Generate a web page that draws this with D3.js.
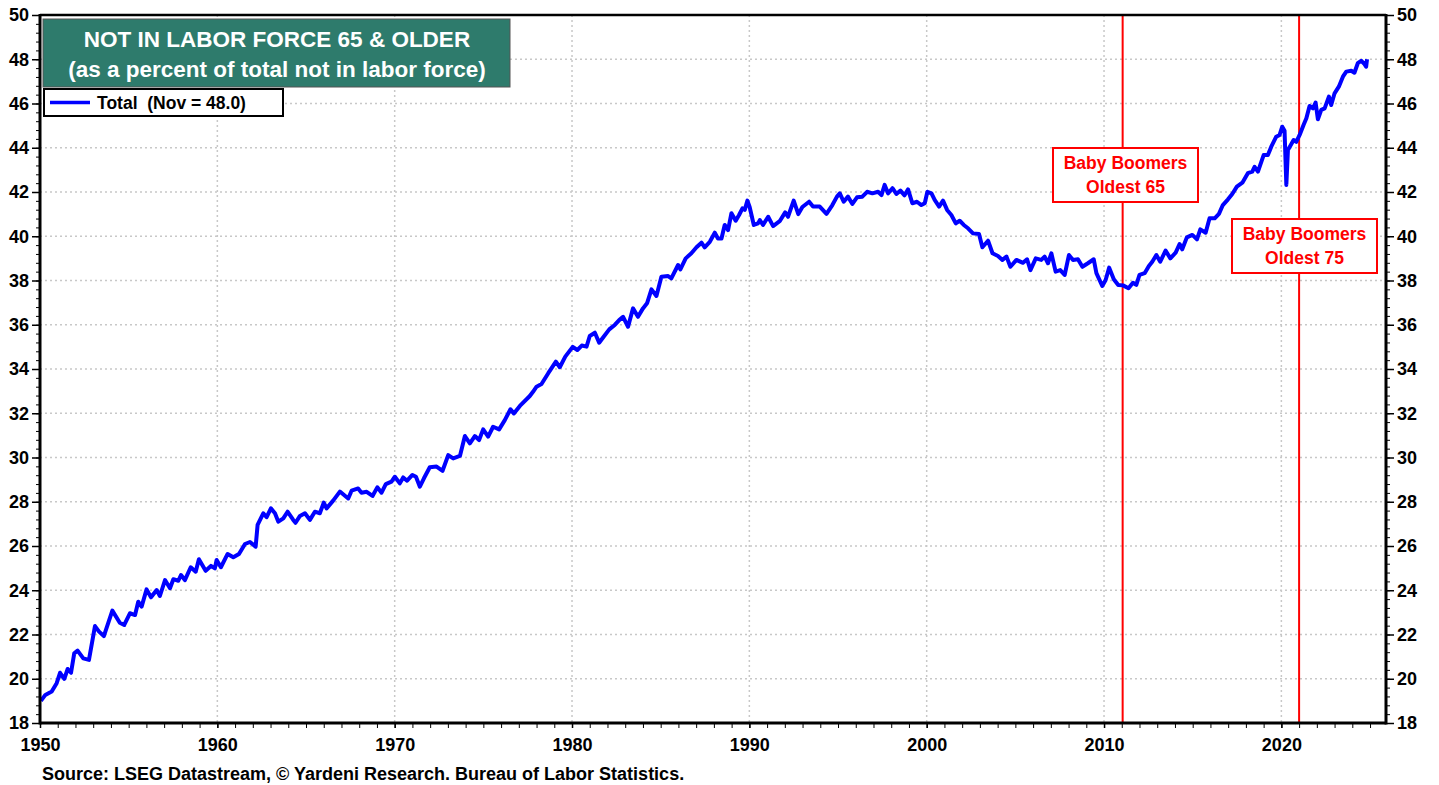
<!DOCTYPE html>
<html>
<head>
  <meta charset="utf-8">
  <script src="https://d3js.org/d3.v7.min.js"></script>
  <style>
    body { margin: 0; background: #fff; }
    text { font-family: "Liberation Sans", Arial, sans-serif; font-weight: bold; }
    .axis path, .axis line { stroke: #000; }
    .axis text { font-size: 18px; fill: #000; font-family: "Liberation Sans", Arial, sans-serif; font-weight: bold; }
    .grid line { stroke: #c8c8c8; stroke-width: 1.5; stroke-dasharray: 2,3; }
  </style>
</head>
<body>
<script>
// decimal year of each reading
var years = [1950.05,1950.3,1950.66,1950.94,1951.13,1951.37,1951.56,1951.75,1951.93,1952.12,1952.44,1952.76,
  1953.1,1953.33,1953.6,1954.08,1954.5,1954.75,1955.07,1955.36,1955.54,1955.73,1956.01,1956.26,1956.58,1956.76,
  1957.05,1957.33,1957.52,1957.8,1957.95,1958.17,1958.5,1958.78,1958.96,1959.34,1959.64,1959.86,1959.96,
  1960.2,1960.58,1960.9,1961.22,1961.56,1961.84,1962.16,1962.27,1962.59,1962.78,1963.02,1963.25,1963.44,1963.72,
  1963.96,1964.28,1964.41,1964.66,1964.94,1965.22,1965.5,1965.78,1966.0,1966.16,1966.53,1966.91,1967.38,1967.57,
  1967.94,1968.13,1968.42,1968.75,1969.02,1969.26,1969.5,1969.82,1970.01,1970.29,1970.48,1970.7,1971.0,1971.2,
  1971.42,1971.65,1971.98,1972.36,1972.7,1973.02,1973.3,1973.68,1973.96,1974.24,1974.52,1974.76,1974.99,1975.27,
  1975.55,1975.89,1976.21,1976.53,1976.72,1977.06,1977.62,1977.8,1978.0,1978.28,1978.66,1979.09,1979.31,1979.62,
  1980.04,1980.3,1980.55,1980.82,1981.0,1981.29,1981.53,1981.72,1982.1,1982.41,1982.66,1982.88,1983.16,1983.44,
  1983.72,1984.0,1984.23,1984.48,1984.76,1985.04,1985.42,1985.6,1985.98,1986.11,1986.41,1986.73,1987.02,1987.3,
  1987.48,1987.77,1988.05,1988.23,1988.43,1988.61,1988.8,1988.99,1989.23,1989.42,1989.61,1989.74,1989.89,1990.02,
  1990.25,1990.49,1990.59,1990.77,1991.06,1991.34,1991.71,1992.02,1992.18,1992.5,1992.76,1992.99,1993.37,1993.59,
  1993.97,1994.35,1994.68,1994.94,1995.1,1995.32,1995.56,1995.81,1996.07,1996.37,1996.64,1996.94,1997.26,1997.45,
  1997.63,1997.82,1998.07,1998.29,1998.52,1998.75,1998.95,1999.19,1999.45,1999.7,1999.89,2000.04,2000.27,2000.45,
  2000.7,2000.92,2001.15,2001.39,2001.64,2001.86,2002.09,2002.33,2002.61,2002.95,2003.14,2003.46,2003.71,2004.02,
  2004.27,2004.5,2004.72,2005.06,2005.43,2005.66,2005.85,2006.15,2006.46,2006.65,2006.84,2007.03,2007.27,2007.53,
  2007.78,2008.02,2008.25,2008.53,2008.78,2009.09,2009.42,2009.57,2009.9,2010.09,2010.29,2010.55,2010.8,2011.07,
  2011.38,2011.63,2011.82,2012.0,2012.29,2012.53,2012.72,2012.95,2013.17,2013.47,2013.74,2014.04,2014.26,2014.41,
  2014.67,2014.98,2015.24,2015.43,2015.73,2015.95,2016.24,2016.48,2016.7,2016.99,2017.23,2017.49,2017.8,2018.11,
  2018.36,2018.49,2018.68,2019.0,2019.24,2019.43,2019.71,2019.9,2020.05,2020.18,2020.28,2020.37,2020.5,2020.69,
  2020.84,2021.03,2021.25,2021.41,2021.59,2021.78,2021.93,2022.06,2022.25,2022.44,2022.68,2022.81,2023.0,2023.24,
  2023.47,2023.66,2023.94,2024.12,2024.31,2024.5,2024.69,2024.78,2024.83];

// not in labor force 65 & older, % of total not in labor force
var totals = [19.0,19.27,19.42,19.8,20.27,19.99,20.44,20.27,21.15,21.27,20.92,20.85,
  22.38,22.13,21.93,23.08,22.53,22.43,22.96,22.88,23.48,23.26,24.04,23.68,24.01,23.74,
  24.46,24.09,24.5,24.43,24.69,24.46,25.04,24.84,25.4,24.88,25.1,24.99,25.37,
  25.04,25.64,25.49,25.64,26.09,26.18,25.97,26.95,27.48,27.3,27.7,27.48,27.1,27.25,
  27.55,27.18,27.05,27.36,27.48,27.18,27.55,27.48,27.96,27.7,28.05,28.46,28.15,28.5,
  28.6,28.41,28.45,28.26,28.65,28.41,28.8,28.91,29.13,28.83,29.1,28.95,29.21,29.13,
  28.68,29.06,29.56,29.59,29.4,30.11,29.96,30.07,30.97,30.64,30.97,30.79,31.27,30.94,
  31.39,31.27,31.69,32.18,31.99,32.33,32.78,32.97,33.2,33.32,33.81,34.33,34.08,34.56,
  35.0,34.86,35.06,35.01,35.49,35.64,35.19,35.39,35.79,35.99,36.21,36.36,35.91,36.74,
  36.36,36.74,36.97,37.6,37.3,38.17,38.2,38.1,38.7,38.5,39.0,39.23,39.5,39.71,
  39.5,39.75,40.16,39.9,39.9,40.51,40.28,41.04,40.7,40.96,41.26,41.19,41.61,41.31,
  40.51,40.58,40.73,40.51,40.88,40.46,40.68,41.08,40.88,41.61,41.0,41.32,41.56,41.34,
  41.34,41.01,41.41,41.79,41.94,41.56,41.79,41.46,41.76,41.79,42.01,41.94,42.01,41.86,
  42.32,41.94,42.17,41.91,42.06,41.85,42.12,41.49,41.56,41.41,41.49,42.01,41.94,41.64,
  41.34,41.61,41.19,40.96,40.58,40.7,40.51,40.36,40.13,40.1,39.5,39.8,39.23,39.11,
  38.93,39.08,38.62,38.93,38.8,38.96,38.47,39.0,38.93,39.08,38.78,39.23,38.4,38.47,
  38.25,39.15,38.93,38.96,38.62,38.78,38.96,38.33,37.75,38.02,38.58,38.06,37.8,37.78,
  37.65,37.9,37.8,38.25,38.33,38.66,38.85,39.15,38.85,39.35,39.0,39.26,39.65,39.41,
  39.95,40.06,39.86,40.31,40.16,40.81,40.81,41.01,41.41,41.67,41.91,42.24,42.42,42.85,
  42.92,43.14,42.92,43.67,43.67,44.05,44.5,44.58,44.95,44.77,42.32,43.9,44.08,44.35,
  44.27,44.58,45.03,45.33,45.89,45.78,46.04,45.29,45.71,45.78,46.31,45.93,46.46,46.76,
  47.21,47.44,47.48,47.39,47.82,47.93,47.78,47.66,48.0];

var yearTicks = [1950, 1960, 1970, 1980, 1990, 2000, 2010, 2020];
var valueTicks = [18, 20, 22, 24, 26, 28, 30, 32, 34, 36, 38, 40, 42, 44, 46, 48, 50];
var markerYears = [2011.05, 2021.0];
var markerLabels = [["Baby Boomers", "Oldest 65"], ["Baby Boomers", "Oldest 75"]];

var plotLeft = 40, plotTop = 15, plotRight = 1386, plotBottom = 723;

var svg = d3.select("body").append("svg")
    .attr("width", 1439)
    .attr("height", 785);

var x = d3.scaleLinear().domain([1950, 2025.9]).range([plotLeft, plotRight]);
var y = d3.scaleLinear().domain([18, 50]).range([plotBottom, plotTop]);

// grid
svg.append("g").attr("class", "grid")
  .selectAll("line").data(yearTicks.slice(1)).enter().append("line")
    .attr("x1", d => x(d)).attr("x2", d => x(d))
    .attr("y1", plotTop).attr("y2", plotBottom);
svg.append("g").attr("class", "grid")
  .selectAll("line").data(valueTicks.slice(1, -1)).enter().append("line")
    .attr("x1", plotLeft).attr("x2", plotRight)
    .attr("y1", d => y(d)).attr("y2", d => y(d));

// minor ticks
var minorYears = d3.range(1950, 2026);
var minorValues = d3.range(18, 50.01, 0.4);

svg.append("g").attr("class", "axis")
    .attr("transform", "translate(0," + plotBottom + ")")
    .call(d3.axisBottom(x).tickValues(minorYears).tickSize(5).tickFormat(""))
    .call(g => g.select(".domain").remove());
svg.append("g").attr("class", "axis")
    .attr("transform", "translate(" + plotLeft + ",0)")
    .call(d3.axisLeft(y).tickValues(minorValues).tickSize(4).tickFormat(""))
    .call(g => g.select(".domain").remove());
svg.append("g").attr("class", "axis")
    .attr("transform", "translate(" + plotRight + ",0)")
    .call(d3.axisRight(y).tickValues(minorValues).tickSize(4).tickFormat(""))
    .call(g => g.select(".domain").remove());

// major axes
svg.append("g").attr("class", "axis")
    .attr("transform", "translate(0," + plotBottom + ")")
    .call(d3.axisBottom(x).tickValues(yearTicks).tickSize(5).tickPadding(10).tickFormat(d3.format("d")))
    .call(g => g.select(".domain").remove())
    .selectAll("line").attr("stroke-width", 1.5);
svg.append("g").attr("class", "axis")
    .attr("transform", "translate(" + plotLeft + ",0)")
    .call(d3.axisLeft(y).tickValues(valueTicks).tickSize(8).tickPadding(3))
    .call(g => g.select(".domain").remove())
    .selectAll("line").attr("stroke-width", 1.5);
svg.append("g").attr("class", "axis")
    .attr("transform", "translate(" + plotRight + ",0)")
    .call(d3.axisRight(y).tickValues(valueTicks).tickSize(8).tickPadding(3))
    .call(g => g.select(".domain").remove())
    .selectAll("line").attr("stroke-width", 1.5);

// red markers
svg.selectAll(".marker")
  .data(markerYears).enter().append("line")
    .attr("class", "marker")
    .attr("x1", d => x(d)).attr("x2", d => x(d))
    .attr("y1", plotTop).attr("y2", plotBottom)
    .attr("stroke", "#ff0000").attr("stroke-width", 2);

// series
var series = years.map((yr, i) => [yr, totals[i]]);
svg.append("path")
    .datum(series)
    .attr("fill", "none")
    .attr("stroke", "#0000ff")
    .attr("stroke-width", 4)
    .attr("stroke-linejoin", "round")
    .attr("d", d3.line().x(d => x(d[0])).y(d => y(d[1])));

// frame
svg.append("line").attr("x1", plotLeft).attr("x2", plotRight).attr("y1", plotTop).attr("y2", plotTop)
    .attr("stroke", "#000").attr("stroke-width", 2.5);
svg.append("line").attr("x1", plotLeft).attr("x2", plotRight).attr("y1", plotBottom).attr("y2", plotBottom)
    .attr("stroke", "#000").attr("stroke-width", 3);
svg.append("line").attr("x1", plotLeft).attr("x2", plotLeft).attr("y1", plotTop - 1).attr("y2", plotBottom + 1.5)
    .attr("stroke", "#000").attr("stroke-width", 3);
svg.append("line").attr("x1", plotRight).attr("x2", plotRight).attr("y1", plotTop - 1).attr("y2", plotBottom + 1.5)
    .attr("stroke", "#000").attr("stroke-width", 3);

// title box
svg.append("rect")
    .attr("x", 43).attr("y", 19).attr("width", 467).attr("height", 68)
    .attr("fill", "#2e7b6c").attr("stroke", "#555").attr("stroke-width", 1);
svg.append("text").attr("x", 277).attr("y", 47)
    .attr("text-anchor", "middle").attr("fill", "#fff").style("font-size", "22.5px")
    .text("NOT IN LABOR FORCE 65 & OLDER");
svg.append("text").attr("x", 277).attr("y", 77)
    .attr("text-anchor", "middle").attr("fill", "#fff").style("font-size", "22.5px")
    .text("(as a percent of total not in labor force)");

// legend
svg.append("rect")
    .attr("x", 44).attr("y", 89).attr("width", 239).attr("height", 27)
    .attr("fill", "#fff").attr("stroke", "#000").attr("stroke-width", 2);
svg.append("line").attr("x1", 50).attr("x2", 90).attr("y1", 102.5).attr("y2", 102.5)
    .attr("stroke", "#0000ff").attr("stroke-width", 3.5);
svg.append("text").attr("x", 97).attr("y", 108.5).style("font-size", "17.5px")
    .attr("xml:space", "preserve")
    .text("Total  (Nov = 48.0)");

// annotation boxes
var boxes = [{x: 1053, y: 148, w: 145, h: 54}, {x: 1232, y: 219, w: 145, h: 54}];
boxes.forEach((b, i) => {
  svg.append("rect")
      .attr("x", b.x).attr("y", b.y).attr("width", b.w).attr("height", b.h)
      .attr("fill", "#fff").attr("stroke", "#ff0000").attr("stroke-width", 2);
  markerLabels[i].forEach((t, j) => {
    svg.append("text")
        .attr("x", b.x + b.w / 2).attr("y", b.y + 21 + j * 24)
        .attr("text-anchor", "middle").attr("fill", "#ff0000")
        .style("font-size", "17.5px")
        .text(t);
  });
});

// source
svg.append("text").attr("x", 42).attr("y", 780).style("font-size", "18px")
    .text("Source: LSEG Datastream, \u00a9 Yardeni Research. Bureau of Labor Statistics.");
</script>
</body>
</html>
